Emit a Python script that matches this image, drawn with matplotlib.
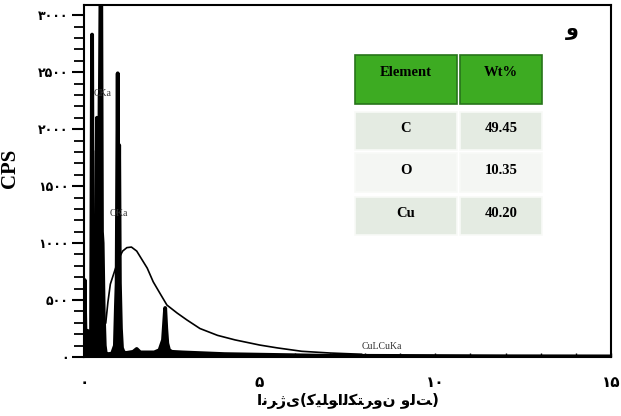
import matplotlib.pyplot as plt
from matplotlib.patches import Rectangle
from matplotlib.ticker import MultipleLocator, FixedLocator

# EDS spectrum (keV, CPS)
energy = [0.00, 0.02, 0.03, 0.05, 0.10, 0.12, 0.15, 0.20, 0.21, 0.23, 0.25, 0.28, 0.32, 0.34,
          0.37, 0.39, 0.41, 0.43, 0.47, 0.49, 0.51, 0.53, 0.56, 0.59, 0.62, 0.70, 0.80, 0.88,
          0.91, 0.93, 0.96, 0.98, 1.00, 1.02, 1.05, 1.08, 1.13, 1.20, 1.40, 1.50, 1.60, 1.80,
          2.00, 2.15, 2.25, 2.31, 2.34, 2.37, 2.42, 2.50, 2.80, 3.20, 4.00, 5.00, 6.00, 7.00,
          8.00, 10.0, 12.0, 15.0]
counts = [0, 675, 400, 60, 230, 150, 40, 80, 900, 2830, 600, 250, 60, 400,
          2100, 500, 700, 1100, 3200, 3200, 1100, 1000, 400, 100, 30, 25, 30, 100,
          450, 650, 2490, 900, 1860, 650, 250, 80, 40, 35, 45, 70, 40, 40,
          40, 60, 150, 430, 250, 120, 60, 45, 40, 35, 25, 20, 15, 10,
          10, 8, 6, 5]

# second (grey) trace
grey_e = [0.20, 0.25, 0.26, 0.28, 0.33, 0.40, 0.43, 0.46, 0.52]
grey_c = [0, 300, 1800, 300, 0, 200, 2300, 200, 0]

# background continuum
bg_e = [0.62, 0.68, 0.75, 0.88, 1.00, 1.10, 1.22, 1.35, 1.50, 1.60, 1.80, 1.97, 2.16, 2.36,
        2.65, 2.93, 3.30, 3.80, 4.30, 5.00, 5.50, 6.20, 7.00, 7.90]
bg_c = [300, 480, 640, 763, 870, 930, 960, 965, 930, 880, 780, 660, 560, 456,
        386, 325, 250, 190, 150, 105, 80, 50, 35, 24]

peak_labels = ['CKa', 'OKa', 'CuLCuKa']
peak_x = [0.52, 1.00, 8.48]
peak_y = [2316, 1263, 88]

elements = ['C', 'O', 'Cu']
wt = ['49.45', '10.35', '40.20']

yticks = [0, 500, 1000, 1500, 2000, 2500, 3000]
xticks = [0, 5, 10, 15]
fa = str.maketrans('0123456789', '۰۱۲۳۴۵۶۷۸۹')

W, H = 621, 416
fig = plt.figure(figsize=(W / 100, H / 100), dpi=100)
ax = fig.add_axes([84 / W, 1 - 357 / H, (611 - 84) / W, (357 - 5) / H])

ax.plot(grey_e, grey_c, color='#b5b5b5', lw=3, zorder=1)
ax.fill_between(energy, counts, 0, color='black', lw=0, zorder=2)
ax.plot(energy, counts, color='black', lw=2.8, zorder=3)
ax.plot(bg_e, bg_c, color='black', lw=1.2, zorder=3)

for t, x, y in zip(peak_labels, peak_x, peak_y):
    ax.text(x, y, t, fontsize=7, ha='center', va='center', color='#333333',
            family='Liberation Serif', zorder=4)

ax.set_xlim(0, 15)
ax.set_ylim(0, 3090)
ax.xaxis.set_major_locator(FixedLocator(xticks))
ax.xaxis.set_minor_locator(MultipleLocator(1))
ax.yaxis.set_major_locator(FixedLocator(yticks))
ax.yaxis.set_minor_locator(MultipleLocator(100))
ax.set_xticklabels([str(v).translate(fa) for v in xticks], fontsize=11,
                   fontweight='bold', family='DejaVu Sans')
ax.set_yticklabels([str(v).translate(fa) for v in yticks], fontsize=9,
                   fontweight='bold', family='DejaVu Sans')
ax.tick_params(axis='x', which='both', direction='in', length=3, width=1, pad=13)
ax.tick_params(axis='y', which='major', direction='out', length=9, width=1.5, pad=2)
ax.tick_params(axis='y', which='minor', direction='out', length=7, width=1.3)
for s in ax.spines.values():
    s.set_linewidth(1.5)

ax.set_ylabel('CPS', fontsize=15, fontweight='bold', family='Liberation Serif')
ax.yaxis.set_label_coords((20 - 84) / (611 - 84), (357 - 168) / (357 - 5))
# Persian label, glyphs shaped and laid out left to right as in the picture
xlabel = 'ﺍﻧﺮﮊﯼ(ﮐﯿﻠﻮﺍﻟﮑﺘﺮﻭﻥ ﻭﻟﺖ)'
ax.set_xlabel(xlabel, fontsize=11, fontweight='bold', family='DejaVu Sans', labelpad=2)
fig.text(572 / W, 1 - 30 / H, 'و', fontsize=15, fontweight='bold', ha='center', va='center',
         family='DejaVu Sans')

# composition table
def box(x0, y0, x1, y1, fc, ec):
    fig.add_artist(Rectangle((x0 / W, 1 - y1 / H), (x1 - x0) / W, (y1 - y0) / H,
                             transform=fig.transFigure, facecolor=fc, edgecolor=ec, lw=1.2))

def cell_text(x, y, t):
    fig.text(x / W, 1 - y / H, t, fontsize=10.5, fontweight='bold', ha='center', va='center',
             family='Liberation Serif')

cols = [(355, 457), (460, 542)]
box(cols[0][0], 55, cols[0][1], 104, '#3dab22', '#27741a')
box(cols[1][0], 55, cols[1][1], 104, '#3dab22', '#27741a')
cell_text(406, 73, 'Element')
cell_text(501, 73, 'Wt%')
rows = [(112, 150), (153, 192), (197, 235)]
fills = ['#e4ebe2', '#f4f6f3', '#e4ebe2']
for (y0, y1), fc, el, w in zip(rows, fills, elements, wt):
    box(cols[0][0], y0, cols[0][1], y1, fc, '#f8faf7')
    box(cols[1][0], y0, cols[1][1], y1, fc, '#f8faf7')
    cell_text(406, (y0 + y1) / 2 - 2, el)
    cell_text(501, (y0 + y1) / 2 - 2, w)

fig.savefig('out.png', dpi=100)
